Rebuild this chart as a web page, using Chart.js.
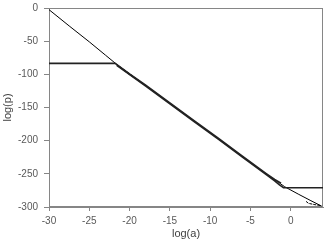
<!DOCTYPE html>
<html>
<head>
<meta charset="utf-8">
<script src="https://cdn.jsdelivr.net/npm/chart.js@4.4.1/dist/chart.umd.min.js"></script>
<style>
html,body{margin:0;padding:0;background:#fff;}
#wrap{width:332px;height:247px;position:relative;}
</style>
</head>
<body>
<div id="wrap"><canvas id="c" width="332" height="247"></canvas></div>
<script>
// log(a) values and log(p) values
const thinX = [-30, -27.5, -25, -23, -21.6, -18, -15, -12, -9, -6, -3, -1.5, -0.75, 1, 2.5, 3.8];
const thinY = [-2.5, -27, -51, -71, -85, -117, -143.8, -170.5, -197, -224, -250.8, -263, -269.5, -281, -290.5, -298.5];

const plateauLowX = [-30, -21.8, -20, -18, -15, -12, -9, -6, -3, -2, -1.2];
const plateauLowY = [-83.5, -83.5, -99.5, -116.3, -143, -169.8, -196.3, -223.3, -250, -258.5, -264];

const plateauHighX = [-21.6, -18, -15, -12, -9, -6, -3, -2, -1.4, -0.9, 0, 2, 4];
const plateauHighY = [-86.5, -117.8, -144.6, -171.3, -197.8, -224.8, -251.6, -260.5, -266.5, -271, -271, -271, -271];

const tailX = [1.9, 2.2, 3, 3.8];
const tailY = [-291.5, -294.5, -296.5, -298];

const xTicks = [-30, -25, -20, -15, -10, -5, 0];
const yTicks = [0, -50, -100, -150, -200, -250, -300];

function pts(xs, ys) { return xs.map((x, i) => ({x: x, y: ys[i]})); }

const boxPlugin = {
  id: 'box',
  beforeDatasetsDraw(chart) {
    const a = chart.chartArea, ctx = chart.ctx;
    ctx.save();
    ctx.strokeStyle = '#868686';
    ctx.lineWidth = 1;
    ctx.strokeRect(Math.round(a.left) + 0.5, Math.round(a.top) + 0.5,
                   Math.round(a.right - a.left) - 1, Math.round(a.bottom - a.top) - 1);
    ctx.restore();
  }
};

const baseDs = {showLine: true, pointRadius: 0, fill: false, tension: 0, borderColor: '#000'};

new Chart(document.getElementById('c'), {
  type: 'scatter',
  data: {
    datasets: [
      Object.assign({}, baseDs, {data: pts(plateauLowX, plateauLowY), borderWidth: 1.6, borderColor: '#222'}),
      Object.assign({}, baseDs, {data: pts(plateauHighX, plateauHighY), borderWidth: 1.6, borderColor: '#222'}),
      Object.assign({}, baseDs, {data: pts(thinX, thinY), borderWidth: 1}),
      Object.assign({}, baseDs, {data: pts(tailX, tailY), borderWidth: 1, borderDash: [3, 1]})
    ]
  },
  options: {
    responsive: false,
    animation: false,
    events: [],
    layout: {padding: {top: 8, right: 9, left: 0, bottom: 0}},
    plugins: {legend: {display: false}, tooltip: {enabled: false}},
    scales: {
      x: {
        type: 'linear', min: -30, max: 4,
        afterFit(s) { s.height = 40; s.paddingLeft = 0; s.paddingRight = 0; },
        afterBuildTicks(s) { s.ticks = xTicks.map(v => ({value: v})); },
        ticks: {color: '#595959', font: {family: 'Liberation Sans', size: 10}, padding: 4, maxRotation: 0},
        grid: {display: true, drawOnChartArea: false, drawTicks: true, tickLength: 4, color: '#868686'},
        border: {display: true, color: '#868686'},
        title: {display: true, text: 'log(a)', color: '#404040', font: {family: 'Liberation Sans', size: 11}, padding: {top: 0, bottom: 6}}
      },
      y: {
        type: 'linear', min: -300, max: 0,
        afterFit(s) { s.width = 49; s.paddingTop = 0; s.paddingBottom = 0; },
        afterBuildTicks(s) { s.ticks = yTicks.map(v => ({value: v})); },
        ticks: {color: '#595959', font: {family: 'Liberation Sans', size: 10}, padding: 6},
        grid: {display: true, drawOnChartArea: false, drawTicks: true, tickLength: 5, color: '#868686'},
        border: {display: true, color: '#868686'},
        title: {display: true, text: 'log(p)', color: '#404040', font: {family: 'Liberation Sans', size: 11}, padding: {top: 1, bottom: 0}}
      }
    }
  },
  plugins: [boxPlugin]
});
</script>
</body>
</html>
